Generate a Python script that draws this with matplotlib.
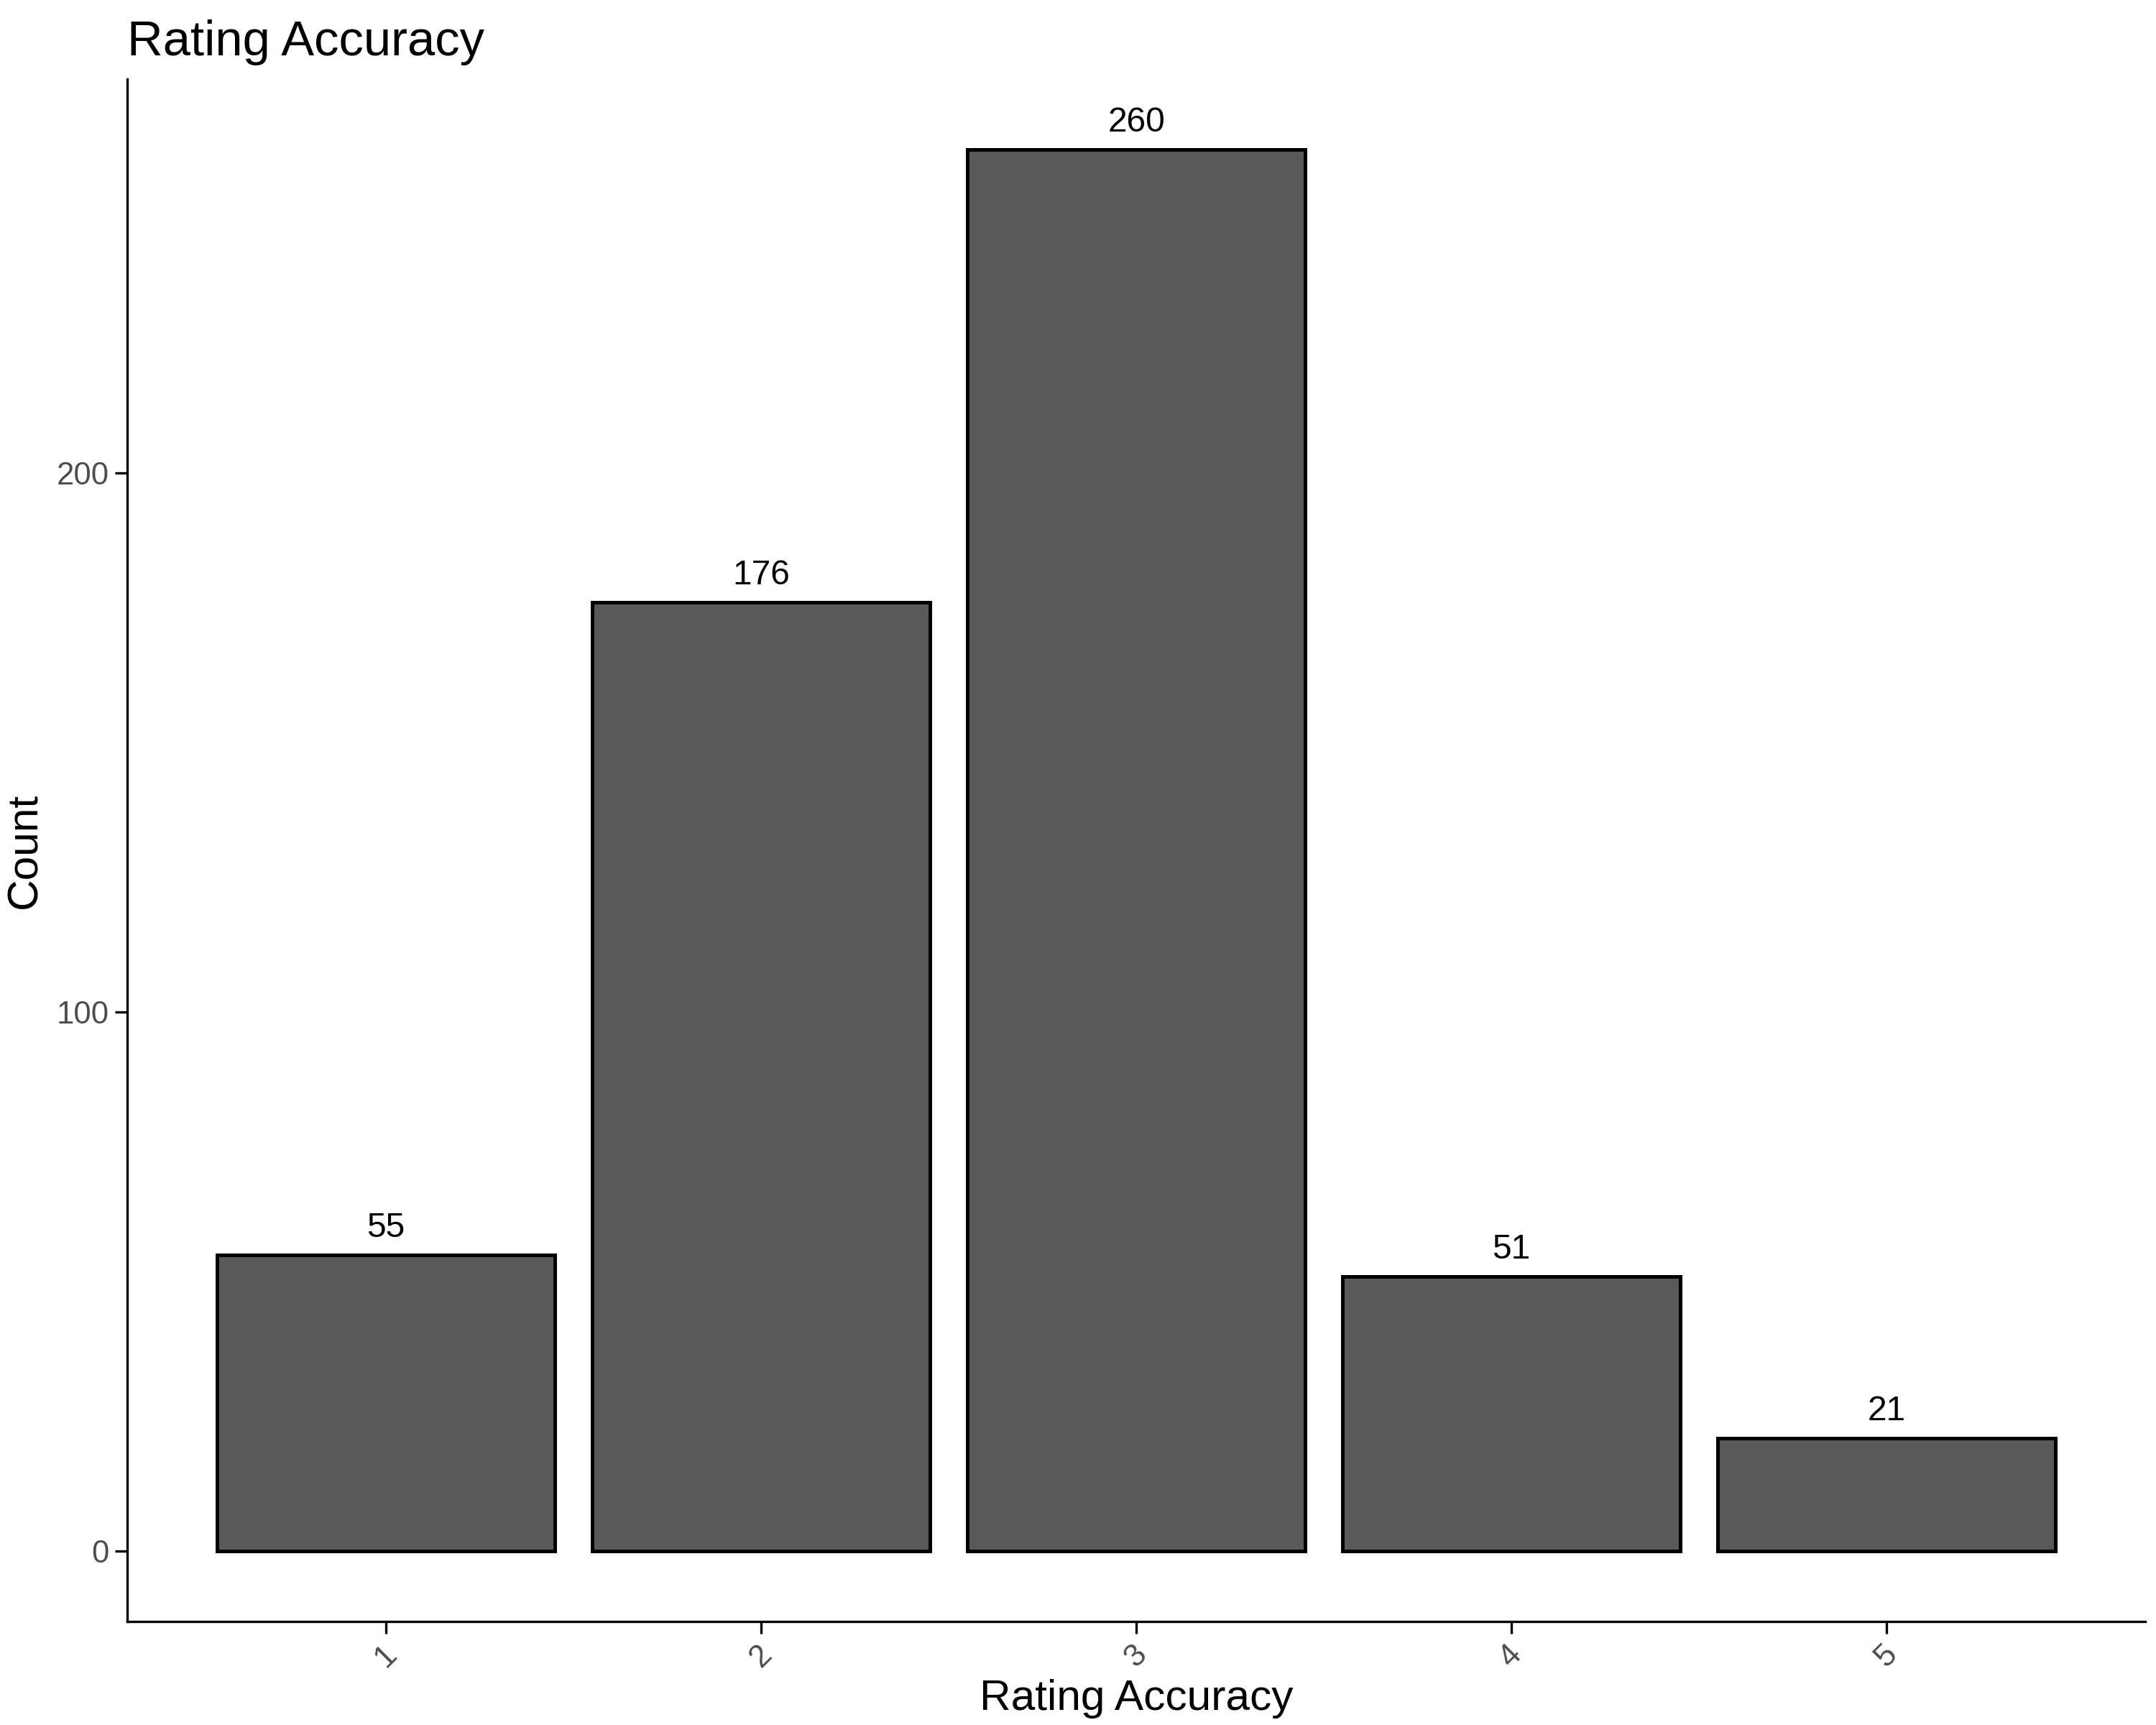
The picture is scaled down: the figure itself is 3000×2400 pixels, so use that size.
import matplotlib.pyplot as plt

categories = ["1", "2", "3", "4", "5"]
counts = [55, 176, 260, 51, 21]

plt.rcParams['font.family'] = ['Liberation Sans', 'DejaVu Sans']

fig = plt.figure(figsize=(10, 8), dpi=300)
ax = fig.add_axes([0.059, 0.06, 0.936, 0.894])

x = list(range(1, len(categories) + 1))
ax.bar(x, counts, width=0.9, color='#595959', edgecolor='black', linewidth=1.2)
for xi, c in zip(x, counts):
    ax.text(xi, c + 2, str(c), ha='center', va='bottom', fontsize=11.5, color='black')

ax.set_xlim(0.31, 5.69)
ax.set_ylim(-13, 273)
ax.set_xticks(x)
ax.set_xticklabels(categories, rotation=45, ha='center', va='top')
ax.set_yticks([0, 100, 200])
ax.tick_params(labelsize=10.5, labelcolor='#4d4d4d', length=4, pad=2)
for s in ['top', 'right']:
    ax.spines[s].set_visible(False)
ax.set_xlabel('Rating Accuracy', fontsize=14.5, labelpad=2)
ax.set_ylabel('Count', fontsize=14.5, labelpad=4)
ax.set_title('Rating Accuracy', fontsize=16.5, loc='left', x=0.0, pad=8)

fig.savefig('out.png', dpi=300)
